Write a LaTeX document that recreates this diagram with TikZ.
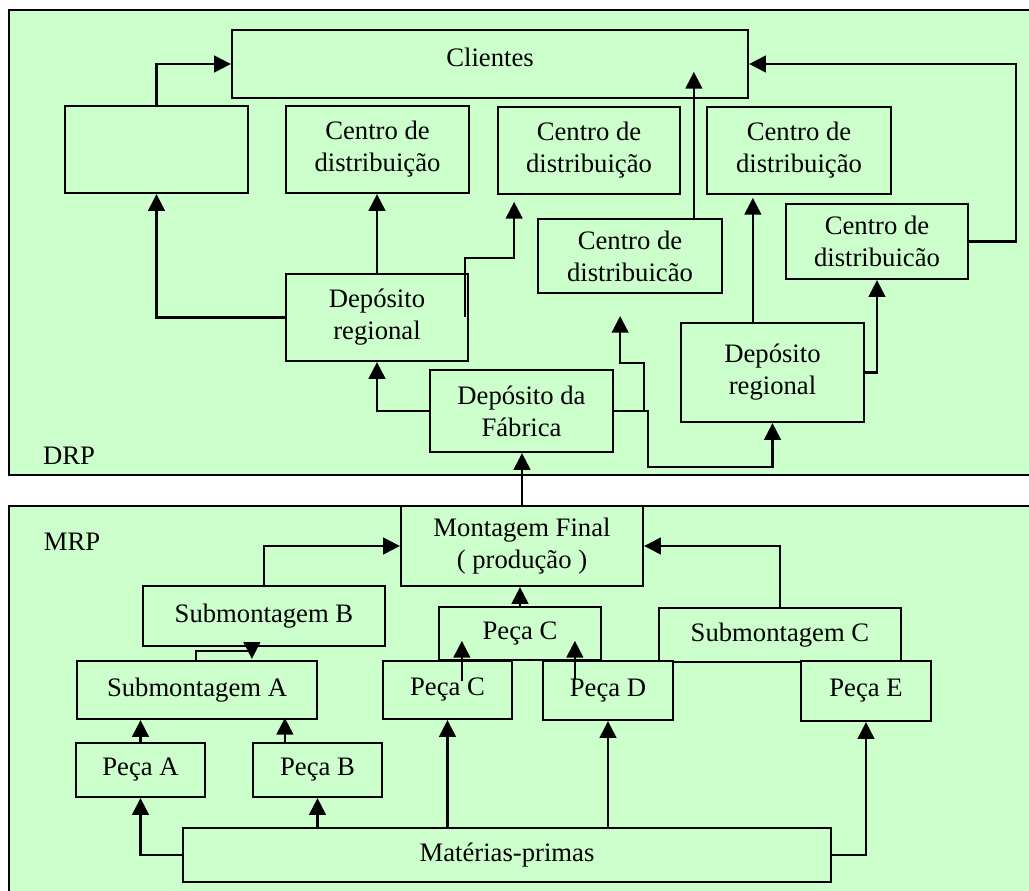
\documentclass[tikz,border=0pt]{standalone}
\usepackage{fontspec}
\setmainfont{Liberation Serif}
\usetikzlibrary{arrows.meta,calc}
\definecolor{panelgreen}{HTML}{CCFFCC}
% place a box by its pixel corners: name, x1, y1, x2, y2, text
\newcommand{\pbox}[6]{%
  \node[box, minimum width={(#4-#2)*0.75pt}, minimum height={(#5-#3)*0.75pt}]
    (#1) at ({(#2+#4)/2},{(#3+#5)/2}) {#6};}
\begin{document}
\begin{tikzpicture}[x=0.75pt, y=-0.75pt,
  every node/.style={font=\fontsize{20}{24}\selectfont},
  box/.style={draw, line width=1.7pt, fill=panelgreen, inner sep=0pt, align=center},
  panel/.style={draw, line width=1.7pt, fill=panelgreen},
  arr/.style={line width=1.6pt, -{Triangle[width=12.5pt,length=12.5pt]}}]
\useasboundingbox (0,0) rectangle (1029,891);
\clip (0,0) rectangle (1029,891);

% the two planning panels
\path[panel] (9,10) rectangle (1040,475);
\path[panel] (9,506) rectangle (1040,900);
\node (drp) at (69,456) {DRP};
\node (mrp) at (72,542) {MRP};

% ---------------- DRP ----------------
\pbox{cli}{232}{30}{748}{98}{}
\node (cliT) at (490,57) {Clientes};
\pbox{emp}{65}{106}{248}{193}{}
\pbox{cd1}{286}{106}{469}{193}{Centro de\\distribuição}
\pbox{cd2}{498}{107}{680}{194}{Centro de\\distribuição}
\pbox{cd4}{707}{107}{891}{194}{Centro de\\distribuição}
\pbox{cd5}{786}{204}{968}{279}{Centro de\\distribuicão}
\pbox{cd3}{538}{219}{722}{293}{Centro de\\distribuicão}
\pbox{drl}{286}{274}{468}{361}{Depósito\\regional}
\pbox{dfab}{430}{370}{613}{452}{Depósito da\\Fábrica}
\pbox{drr}{681}{323}{864}{422}{Depósito\\regional}

\draw[arr] (emp.north) |- (cli.west);
\draw[arr] (cd5.east) -- ++(47,0) |- (cli.east);
\draw[arr] ($(cd3.north west)+(157,0)$) -- ++(0,-146);
\draw[arr] (drl.west) -| (emp.south);
\draw[arr] (drl.north) -- (drl.north |- cd1.south);
\draw[arr] ($(drl.north east)+(-4,44)$) -- ++(0,-59) -- ++(49,0) -- ++(0,-56);
\draw[arr] (dfab.west) -| (drl.south);
\draw[arr] (dfab.east) -- ++(30,0) -- ++(0,-48) -- ++(-24,0) -- ++(0,-47);
\draw[arr] (dfab.east) -- ++(34,0) -- ++(0,56) -| (drr.south);
\draw[arr] (drr.east) -| (cd5.south);
\draw[arr] ($(drr.north west)+(73,0)$) -- ++(0,-124);

% ---------------- MRP ----------------
\pbox{mf}{401}{506}{643}{586}{Montagem Final\\( produção )}
\pbox{subB}{143}{586}{385}{646}{Submontagem B}
\pbox{subC}{659}{608}{901}{662}{Submontagem C}
\pbox{pcU}{439}{607}{601}{660}{Peça C}
\pbox{subA}{77}{661}{317}{719}{Submontagem A}
\pbox{pcL}{383}{661}{512}{719}{Peça C}
\pbox{pd}{543}{661}{673}{720}{Peça D}
\pbox{pe}{801}{661}{931}{721}{Peça E}
\pbox{pa}{76}{743}{205}{797}{Peça A}
\pbox{pb}{253}{743}{382}{797}{Peça B}
\pbox{mat}{183}{828}{831}{882}{Matérias-primas}

\draw[arr] (mf.north) -- (mf.north |- dfab.south);
\draw[arr] (subB.north) |- (mf.west);
\draw[arr] (subC.north) |- (mf.east);
\draw[arr] (pcU.north) -- (pcU.north |- mf.south);
\draw[arr] ($(pcL.north west)+(80,21)$) -- ++(0,-40);
\draw[arr] ($(pd.north west)+(33,19)$) -- ++(0,-38);
\draw[arr] ($(subA.north west)+(120,0)$) -- ++(0,-9) -- ++(56,0) -- ++(0,8);
\draw[arr] (pa.north) -- (pa.north |- subA.south);
\draw[arr] ($(pb.north west)+(33,0)$) -- ++(0,-24);
\draw[arr] (mat.west) -| (pa.south);
\draw[arr] (mat.north -| pb.south) -- (pb.south);
\draw[arr] (mat.north -| pcL.south) -- (pcL.south);
\draw[arr] (mat.north -| pd.south) -- (pd.south);
\draw[arr] (mat.east) -| (pe.south);
\end{tikzpicture}
\end{document}
